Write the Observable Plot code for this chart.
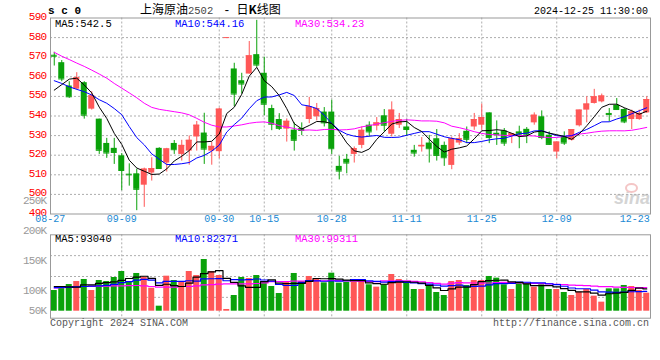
<!DOCTYPE html>
<html><head><meta charset="utf-8">
<script src="https://cdn.jsdelivr.net/npm/d3@7"></script>
<script src="https://cdn.jsdelivr.net/npm/@observablehq/plot@0.6"></script>
<style>
body{margin:0;background:#fff}
#wrap{position:relative;width:660px;height:360px;background:#fff;overflow:hidden}
#wrap svg{position:absolute;left:0;top:0;background:transparent!important;overflow:visible;z-index:1}
.t{position:absolute;white-space:nowrap;line-height:1;font-family:"Liberation Mono",monospace;z-index:2}
.cn{font-family:"Noto Sans CJK SC",sans-serif}
</style></head><body>
<div id="wrap">
  <div class="t" style="left:614px;top:188px;font:italic bold 18px 'Liberation Sans',sans-serif;color:#d4d4d4;z-index:0">sina</div>
  <div class="t" style="left:625px;top:183px;width:9px;height:6px;border:2px solid #f4c6c6;border-radius:50%;z-index:0"></div>
  <div class="t" style="left:48px;top:6px;font-size:11px;font-weight:bold;color:#000">s c 0</div>
  <div class="t" style="left:140px;top:3px;font-size:12px;color:#000"><span class="cn">上海原油</span><span style="font-size:10.5px;color:#444">2502</span><span style="margin:0 6px 0 10px">-</span><span class="cn">日<b>K</b>线图</span></div>
  <div class="t" style="right:12px;top:6.5px;font-size:10px;color:#000">2024-12-25 11:30:00</div>
  <div class="t" style="left:55px;top:19px;font-size:10.5px;color:#000">MA5:542.5</div>
  <div class="t" style="left:175px;top:19px;font-size:10.5px;color:#00f">MA10:544.16</div>
  <div class="t" style="left:295px;top:19px;font-size:10.5px;color:#f0f">MA30:534.23</div>
  <div class="t" style="left:55px;top:234px;font-size:10.5px;color:#000">MA5:93040</div>
  <div class="t" style="left:175px;top:234px;font-size:10.5px;color:#00f">MA10:82371</div>
  <div class="t" style="left:295px;top:234px;font-size:10.5px;color:#f0f">MA30:99311</div>
  <div class="t" style="left:50px;top:319px;font-size:10px;color:#555">Copyright 2024 SINA.COM</div>
  <div class="t" style="right:11px;top:319px;font-size:10px;color:#555">http://finance.sina.com.cn</div>
</div>
<script>
// ---- data ----
const dates = ["08-27","08-28","08-29","08-30","09-02","09-03","09-04","09-05","09-06","09-09",
"09-10","09-11","09-12","09-13","09-18","09-19","09-20","09-23","09-24","09-25",
"09-26","09-27","09-30","10-08","10-09","10-10","10-11","10-14","10-15","10-16",
"10-17","10-18","10-21","10-22","10-23","10-24","10-25","10-28","10-29","10-30",
"10-31","11-01","11-04","11-05","11-06","11-07","11-08","11-11","11-12","11-13",
"11-14","11-15","11-18","11-19","11-20","11-21","11-22","11-25","11-26","11-27",
"11-28","11-29","12-02","12-03","12-04","12-05","12-06","12-09","12-10","12-11",
"12-12","12-13","12-16","12-17","12-18","12-19","12-20","12-23","12-24","12-25"];
const open = [571.0,567.2,555.3,553.7,557.0,543.5,538.4,526.0,523.5,519.7,
510.3,510.5,504.7,510.9,523.5,516.0,526.0,520.4,522.1,529.3,
531.3,522.1,521.8,580.0,564.0,558.0,561.4,571.3,561.8,543.8,
538.2,533.3,532.8,533.6,538.2,539.6,542.0,542.0,514.3,517.9,
520.4,525.0,535.3,534.8,540.1,530.7,535.3,534.4,522.5,524.2,
526.2,528.4,525.0,514.8,526.2,532.2,534.4,535.3,541.6,531.2,
532.4,529.6,531.9,533.2,536.5,539.6,530.2,521.6,529.3,527.6,
535.0,543.0,546.4,547.2,541.3,545.5,543.3,538.2,538.2,541.6];
const high = [572.5,568.3,557.5,562.1,557.5,552.4,538.4,528.6,528.6,520.8,
515.6,512.9,513.4,518.7,523.8,523.5,527.5,527.6,529.8,537.2,
541.4,526.6,544.0,580.0,566.9,561.8,578.0,588.8,570.0,545.5,
541.2,538.5,536.5,536.5,549.5,546.4,544.3,548.1,519.4,520.4,
524.2,534.4,537.0,539.2,543.3,547.2,541.3,538.2,525.0,529.0,
530.1,533.1,526.7,529.3,531.0,534.4,541.3,546.1,541.6,537.5,
533.6,531.0,534.8,534.1,541.6,542.6,531.9,526.7,531.9,533.1,
543.0,549.8,553.6,551.2,543.8,548.9,543.8,543.0,543.0,549.8];
const low = [565.5,557.5,549.0,553.2,538.4,543.0,520.4,518.4,515.3,501.9,
504.2,491.7,493.4,506.8,512.9,511.4,520.4,517.0,514.9,522.1,
515.3,514.9,518.2,580.0,544.7,551.2,561.4,564.8,540.1,532.5,
532.6,526.7,522.1,530.0,536.1,537.5,534.4,520.4,507.4,510.5,
516.0,523.3,529.3,532.4,531.9,529.3,533.6,529.6,519.0,521.6,
516.0,517.0,514.3,512.6,525.0,525.9,532.7,532.7,525.9,525.0,
524.5,525.9,523.3,525.9,535.3,527.9,525.0,518.2,525.0,527.2,
534.4,536.5,546.1,546.7,537.0,543.0,536.1,533.1,537.8,541.3];
const close = [570.5,558.9,549.8,559.5,540.4,550.3,522.5,521.1,521.4,512.2,
510.0,502.6,512.9,513.2,513.2,523.2,522.8,525.0,527.6,535.3,
523.1,524.5,543.5,580.0,551.2,556.3,570.7,566.0,546.0,535.8,
533.7,537.3,527.6,532.6,544.7,543.8,536.5,523.3,511.9,516.0,
523.3,532.7,531.9,536.5,535.3,543.0,538.2,533.1,521.1,525.0,
523.3,519.9,518.7,528.4,528.4,528.1,538.2,539.2,529.0,530.5,
526.2,531.0,530.7,530.7,540.4,529.0,525.5,526.7,526.2,533.1,
543.0,546.1,549.8,550.2,540.8,543.3,537.0,542.1,541.3,548.4];
// volume in thousands
const volK = [100.8,104.7,110.8,115.8,119.2,100.8,117.5,115.8,122.5,132.5,
115.8,129.2,123.1,104.7,74.7,124.7,117.5,115.8,132.5,125.8,
152.5,132.5,125.8,69.2,92.5,122.5,120.8,125.8,115.8,107.5,
95.8,115.8,129.2,115.8,124.2,119.2,113.6,129.7,113.1,114.7,
114.7,114.7,110.3,106.4,110.3,127.5,119.2,113.6,102.5,102.5,
109.2,97.5,92.5,115.8,117.5,109.2,117.5,117.5,124.2,121.4,
110.3,102.5,113.6,111.9,106.4,110.3,102.5,102.5,97.5,92.5,
98.1,102.5,91.4,81.4,103.6,103.6,109.2,107.5,100.8,96.4];
// moving-average values before enough history exists
const ma5Head = [553.2,556.0,558.8,559.3];
const ma10Head = [558.0,556.6,554.9,553.6,552.4,550.7,548.3,546.5,543.8];
const ma30Head = [572.5,570.5,568.8,567.0,565.3,563.4,561.4,559.3,556.6,554.2,551.8,549.3,546.5,544.4,543.4,
542.8,542.2,541.6,540.6,538.8,536.8,535.3,534.4,534.4,534.9,535.5,536.3,536.8,537.0];
const vma5Head = [107.5,107.5,107.0,106.5];
const vma10Head = [105.5,105.8,106.0,107.0,107.5,108.0,108.5,109.5,111.0];
const vma30Head = [105,105.7,106.5,107.5,107.5,107.8,108,108.1,108.4,108.7,109,109.2,108.5,107.5,106.4,
106.4,106.4,107.5,107.5,108.5,110.3,110.5,111.5,111.9,111.9,111.9,111.9,112.5,113.5];
const priceTicks = [490,500,510,520,530,540,550,560,570,580,590];
const priceGrid = [500,510,520,530,540,550,560,570,580];
const tickDates = ["08-27","09-09","09-30","10-15","10-28","11-11","11-25","12-09","12-23"];
const gridDates = ["09-09","09-30","10-15","10-28","11-11","11-25","12-09"];
const volTicks = [50,100,150,200,250];
const volDomain = [54.67,193.67];
const volBase = 66.33;

// ---- build ----
const RED = "#ff5757", GREEN = "#0aa20a", XLAB = "#1a8ad4", GRID = "#adadad";
function movingAvg(src, n, head) {
  return src.map((_, i) => i < n - 1 ? head[i] : d3.mean(src.slice(i - n + 1, i + 1)));
}
const ma5 = movingAvg(close, 5, ma5Head), ma10 = movingAvg(close, 10, ma10Head), ma30 = movingAvg(close, 30, ma30Head);
const vma5 = movingAvg(volK, 5, vma5Head), vma10 = movingAvg(volK, 10, vma10Head), vma30 = movingAvg(volK, 30, vma30Head);
const rows = dates.map((d, i) => ({
  date: d, o: open[i], h: high[i], l: low[i], c: close[i], v: volK[i],
  col: close[i] >= open[i] ? RED : GREEN,
  ma5: ma5[i], ma10: ma10[i], ma30: ma30[i], vma5: vma5[i], vma10: vma10[i], vma30: vma30[i]
}));
const xs = {type: "band", domain: dates, paddingInner: 0.2, paddingOuter: 0.1, round: false, axis: null};
const mono = "Liberation Mono";
const xLabStyle = {frameAnchor: "bottom", dy: 8, fill: XLAB, fontSize: 10, fontFamily: mono};

const price = Plot.plot({
  width: 660, height: 232, marginLeft: 50, marginRight: 10, marginTop: 17.5, marginBottom: 18.5,
  style: {background: "transparent", overflow: "visible"},
  x: xs,
  y: {domain: [490, 590], axis: null},
  marks: [
    Plot.ruleY(priceGrid, {stroke: GRID, strokeDasharray: "2,2"}),
    Plot.ruleX(gridDates, {stroke: GRID, strokeDasharray: "2,2"}),
    Plot.ruleX(rows, {x: "date", y1: "l", y2: "h", stroke: "col"}),
    Plot.barY(rows, {x: "date", y1: d => Math.min(d.o, d.c), y2: d => Math.max(d.o, d.c), fill: "col"}),
    Plot.tickY(rows, {x: "date", y: "c", stroke: "col"}),
    Plot.line(rows, {x: "date", y: "ma30", stroke: "#ff00ff", strokeWidth: 1}),
    Plot.line(rows, {x: "date", y: "ma10", stroke: "#0000ff", strokeWidth: 1}),
    Plot.line(rows, {x: "date", y: "ma5", stroke: "#000000", strokeWidth: 1}),
    Plot.frame({stroke: "#999"}),
    Plot.text(priceTicks, {y: d => d, text: d => String(d), frameAnchor: "left", textAnchor: "end", dx: -4, dy: -1.5,
      fill: "#ff0000", fontSize: 11, fontFamily: mono}),
    Plot.text(tickDates.slice(0, 1), {x: d => d, text: d => d, ...xLabStyle, dx: -4}),
    Plot.text(tickDates.slice(1, -1), {x: d => d, text: d => d, ...xLabStyle}),
    Plot.text(tickDates.slice(-1), {x: d => d, text: d => d, ...xLabStyle, dx: 3})
  ]
});

const volume = Plot.plot({
  width: 660, height: 360, marginLeft: 50, marginRight: 10, marginTop: 234.3, marginBottom: 42.3,
  style: {background: "transparent", overflow: "visible"},
  x: xs,
  y: {domain: volDomain, axis: null},
  marks: [
    Plot.ruleY([0.25, 0.5, 0.75].map(f => volDomain[0] + (volDomain[1] - volDomain[0]) * f), {stroke: GRID, strokeDasharray: "2,2"}),
    Plot.ruleX(gridDates, {stroke: GRID, strokeDasharray: "2,2"}),
    Plot.barY(rows, {x: "date", y1: volBase, y2: "v", fill: "col"}),
    Plot.line(rows, {x: "date", y: "vma30", stroke: "#ff00ff", strokeWidth: 1.2, curve: "step"}),
    Plot.line(rows, {x: "date", y: "vma10", stroke: "#0000ff", strokeWidth: 1.2, curve: "step"}),
    Plot.line(rows, {x: "date", y: "vma5", stroke: "#000000", strokeWidth: 1.2, curve: "step"}),
    Plot.frame({stroke: "#999"}),
    Plot.text(volTicks, {y: d => Math.max(d, volBase), text: d => d + "K", frameAnchor: "left", textAnchor: "end", dx: -4, dy: -1,
      fill: "#999", fontSize: 11, fontFamily: mono})
  ]
});

const wrap = document.getElementById("wrap");
wrap.insertBefore(volume, wrap.children[2]);
wrap.insertBefore(price, wrap.children[2]);
for (const svg of [price, volume]) {
  svg.querySelectorAll("text").forEach(t => {
    if (/^\d+K?$/.test(t.textContent)) t.setAttribute("letter-spacing", "-0.7");
  });
}
</script>
</body></html>
